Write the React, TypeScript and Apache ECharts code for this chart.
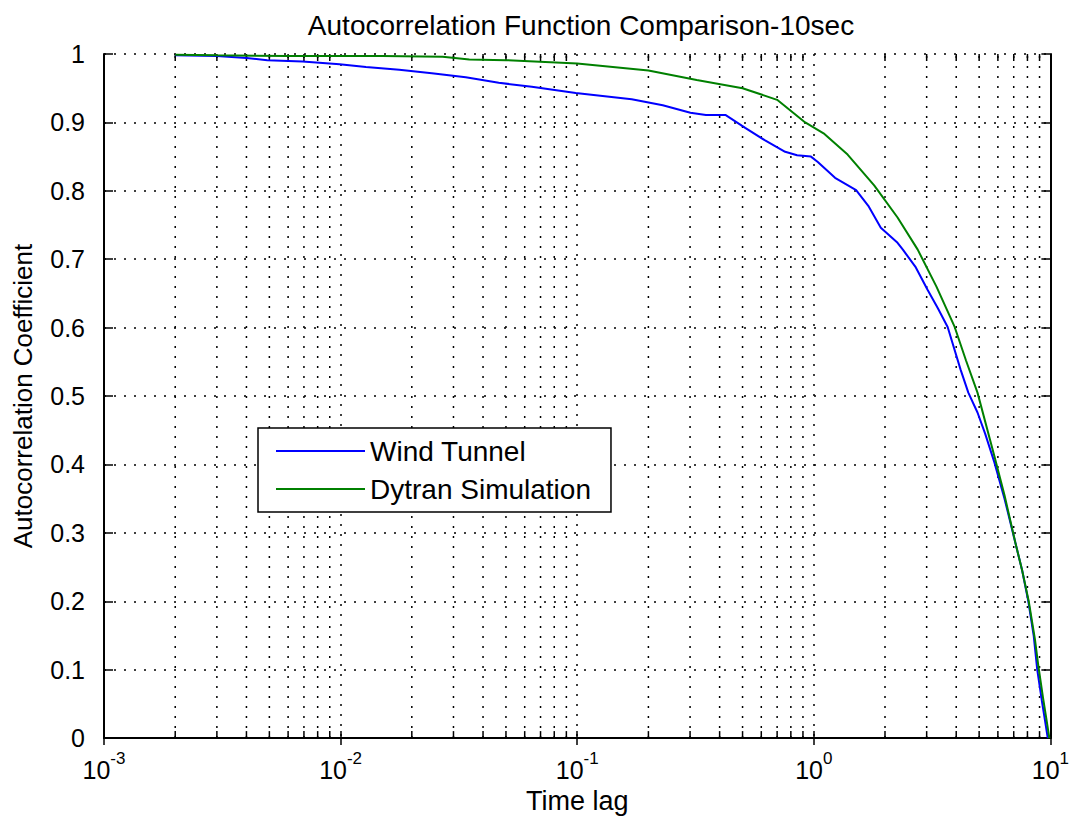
import React, { useEffect, useRef } from 'react';
import * as echarts from 'echarts';

// Time lag vs autocorrelation coefficient
const windTunnel: [number, number][] = [
  [0.002, 0.998], [0.003, 0.997], [0.004, 0.994], [0.0049, 0.991], [0.0069, 0.989],
  [0.0099, 0.985], [0.0128, 0.981], [0.0177, 0.977], [0.0243, 0.972], [0.0338, 0.966],
  [0.0466, 0.958], [0.0643, 0.952], [0.0986, 0.943], [0.17, 0.934], [0.23, 0.925],
  [0.301, 0.914], [0.35, 0.911], [0.423, 0.911], [0.513, 0.892], [0.62, 0.874],
  [0.757, 0.857], [0.85, 0.852], [0.973, 0.85], [1.04, 0.842], [1.23, 0.819],
  [1.51, 0.801], [1.7, 0.778], [1.92, 0.746], [2.26, 0.724], [2.38, 0.714],
  [2.7, 0.688], [3.03, 0.655], [3.35, 0.628], [3.68, 0.601], [4.17, 0.539],
  [4.5, 0.505], [4.92, 0.476], [5.3, 0.445], [5.8, 0.403], [6.4, 0.35],
  [7.05, 0.291], [7.6, 0.245], [8.07, 0.2], [8.5, 0.15], [8.8, 0.1],
  [9.2, 0.055], [9.5, 0.025], [9.75, 0.0],
];

const dytranSimulation: [number, number][] = [
  [0.002, 0.999], [0.003, 0.998], [0.006, 0.997], [0.015, 0.997], [0.027, 0.996],
  [0.035, 0.992], [0.05, 0.991], [0.1, 0.986], [0.2, 0.976], [0.32, 0.962],
  [0.5, 0.95], [0.7, 0.933], [0.92, 0.9], [1.1, 0.884], [1.39, 0.853],
  [1.8, 0.808], [2.26, 0.761], [2.75, 0.714], [3.3, 0.66], [3.94, 0.601],
  [4.4, 0.552], [4.92, 0.505], [5.8, 0.412], [6.4, 0.355], [7.11, 0.286],
  [7.6, 0.245], [8.1, 0.2], [8.6, 0.145], [8.9, 0.105], [9.3, 0.06],
  [9.6, 0.03], [9.9, 0.0],
];

// minor (2..9) log grid positions
const minorLags: number[] = [
  0.002, 0.003, 0.004, 0.005, 0.006, 0.007, 0.008, 0.009,
  0.02, 0.03, 0.04, 0.05, 0.06, 0.07, 0.08, 0.09,
  0.2, 0.3, 0.4, 0.5, 0.6, 0.7, 0.8, 0.9,
  2, 3, 4, 5, 6, 7, 8, 9,
];

const seriesNames = ['Wind Tunnel', 'Dytran Simulation'];
const titleText = 'Autocorrelation Function Comparison-10sec';
const xName = 'Time lag';
const yName = 'Autocorrelation Coefficient';

const TEXT_FONT = "'Liberation Sans', Arial, sans-serif";
const TICK_FONT = "'Liberation Sans Narrow', 'Liberation Sans', Arial, sans-serif";
const DOTS = { color: '#000', width: 1.5, type: [2, 8] as number[] };

export default function App() {
  const ref = useRef<HTMLDivElement>(null);
  useEffect(() => {
    const chart = echarts.init(ref.current!, null, { renderer: 'svg' });
    const xCommon = {
      type: 'log' as const,
      logBase: 10,
      min: 0.001,
      max: 10,
      axisLine: { lineStyle: { color: '#000', width: 2 } },
      axisTick: { inside: true, length: 7, lineStyle: { color: '#000', width: 1.5 } },
    };
    const yCommon = {
      type: 'value' as const,
      min: 0,
      max: 1,
      interval: 0.1,
      axisLine: { show: true, lineStyle: { color: '#000', width: 2 } },
      axisTick: { show: true, inside: true, length: 9, lineStyle: { color: '#000', width: 1.5 } },
    };
    chart.setOption({
      animation: false,
      backgroundColor: '#fff',
      title: {
        text: titleText,
        left: 576,
        textAlign: 'center',
        top: 6,
        textStyle: { fontFamily: TEXT_FONT, fontSize: 28, fontWeight: 'normal', color: '#000' },
      },
      grid: { left: 104, right: 19, top: 54, bottom: 80 },
      legend: {
        data: seriesNames,
        orient: 'vertical',
        left: 258,
        top: 428,
        padding: [9, 20, 9, 18],
        icon: 'rect',
        itemWidth: 89,
        itemHeight: 2,
        itemGap: 10,
        borderColor: '#000',
        borderWidth: 1.5,
        backgroundColor: '#fff',
        textStyle: { fontFamily: TEXT_FONT, fontSize: 28, color: '#000', lineHeight: 28 },
      },
      xAxis: [
        {
          ...xCommon,
          position: 'bottom',
          name: xName,
          nameLocation: 'middle',
          nameGap: 47,
          nameTextStyle: { fontFamily: TEXT_FONT, fontSize: 27, color: '#000' },
          splitLine: { show: true, lineStyle: DOTS },
          axisLabel: {
            margin: 12,
            formatter: (v: number) => `{b|10}{s|${Math.round(Math.log10(v))}}`,
            rich: {
              b: { fontFamily: TICK_FONT, fontSize: 25, color: '#000', lineHeight: 32, verticalAlign: 'bottom' },
              s: { fontFamily: TICK_FONT, fontSize: 17, color: '#000', lineHeight: 32, verticalAlign: 'top' },
            },
          },
        },
        {
          ...xCommon,
          position: 'top',
          axisLabel: { show: false },
          splitLine: { show: false },
        },
      ],
      yAxis: [
        {
          ...yCommon,
          position: 'left',
          name: yName,
          nameLocation: 'middle',
          nameGap: 68,
          nameTextStyle: { fontFamily: TEXT_FONT, fontSize: 26, color: '#000' },
          splitLine: { show: true, lineStyle: DOTS },
          axisLabel: {
            margin: 19,
            fontFamily: TICK_FONT,
            fontSize: 25,
            color: '#000',
            formatter: (v: number) => String(+v.toFixed(1)),
          },
        },
        {
          ...yCommon,
          position: 'right',
          axisLabel: { show: false },
          splitLine: { show: false },
        },
      ],
      series: [
        {
          type: 'custom',
          name: 'minor-grid',
          silent: true,
          z: 1,
          xAxisIndex: 0,
          yAxisIndex: 0,
          data: minorLags.map((v) => [v, 0]),
          encode: { x: 0, y: 1 },
          renderItem: (_p: any, api: any) => {
            const v = api.value(0);
            const b = api.coord([v, 0]);
            const t = api.coord([v, 1]);
            return {
              type: 'group',
              children: [
                { type: 'line', shape: { x1: b[0], y1: b[1], x2: t[0], y2: t[1] }, style: { stroke: '#000', lineWidth: 1.5, lineDash: [2, 8] } },
                { type: 'line', shape: { x1: b[0], y1: b[1], x2: b[0], y2: b[1] - 7 }, style: { stroke: '#000', lineWidth: 1.5 } },
                { type: 'line', shape: { x1: t[0], y1: t[1], x2: t[0], y2: t[1] + 7 }, style: { stroke: '#000', lineWidth: 1.5 } },
              ],
            };
          },
        },
        {
          type: 'line',
          name: seriesNames[0],
          data: windTunnel,
          symbol: 'none',
          z: 3,
          lineStyle: { color: '#0000ff', width: 2 },
          itemStyle: { color: '#0000ff' },
        },
        {
          type: 'line',
          name: seriesNames[1],
          data: dytranSimulation,
          symbol: 'none',
          z: 3,
          lineStyle: { color: '#008000', width: 2 },
          itemStyle: { color: '#008000' },
        },
      ],
    });
    return () => chart.dispose();
  }, []);
  return (
    <div
      ref={ref}
      style={{ position: 'fixed', left: 0, top: 0, width: 1072, height: 819, background: '#fff' }}
    />
  );
}
